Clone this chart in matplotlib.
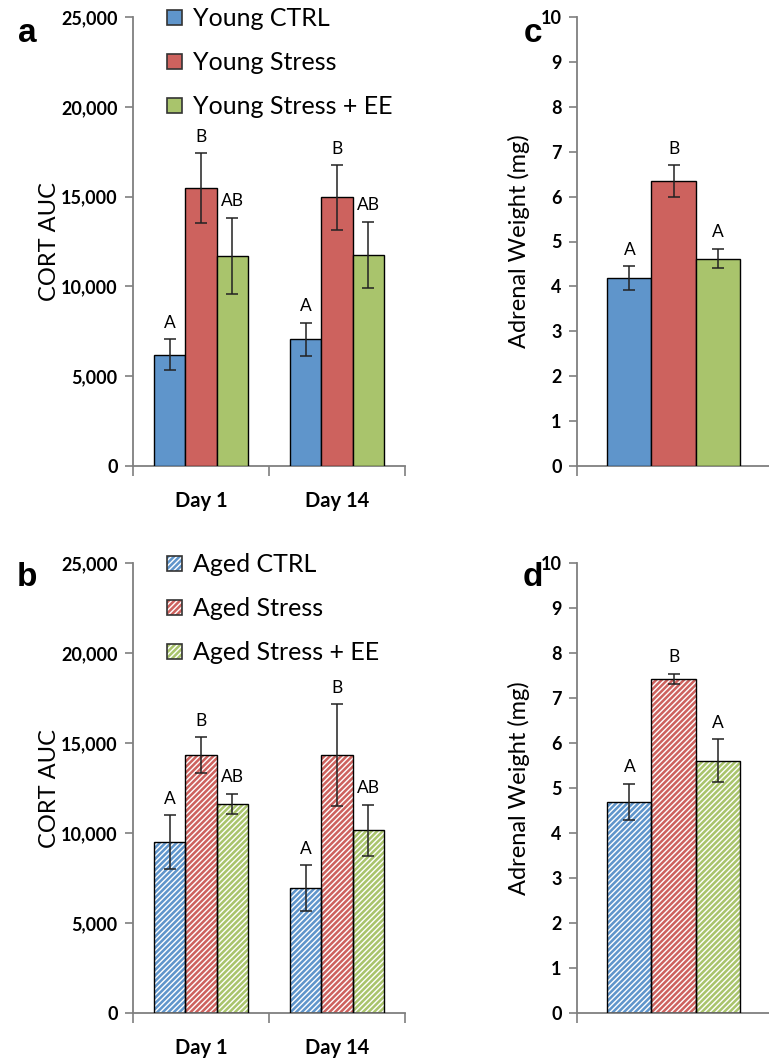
import numpy as np
import matplotlib
matplotlib.use('Agg')
import matplotlib.pyplot as plt
from matplotlib.patches import Patch
from matplotlib.legend_handler import HandlerTuple

plt.rcParams['font.family'] = ['Lato', 'DejaVu Sans']
plt.rcParams['hatch.linewidth'] = 1.0

days = ['Day 1', 'Day 14']
groups_young = ['Young CTRL', 'Young Stress', 'Young Stress + EE']
groups_aged = ['Aged CTRL', 'Aged Stress', 'Aged Stress + EE']
colors = ['#5F95CB', '#CD625E', '#A9C46C']

# CORT AUC, young (panel a)
young_cort = [[6200, 7050], [15480, 14960], [11690, 11750]]
young_cort_err = [[850, 930], [1950, 1800], [2130, 1850]]
young_cort_let = [['A', 'A'], ['B', 'B'], ['AB', 'AB']]

# CORT AUC, aged (panel b)
aged_cort = [[9480, 6930], [14330, 14330], [11630, 10150]]
aged_cort_err = [[1500, 1280], [1000, 2840], [560, 1420]]
aged_cort_let = [['A', 'A'], ['B', 'B'], ['AB', 'AB']]

# adrenal weight (panels c, d)
young_adr = [4.19, 6.35, 4.62]
young_adr_err = [0.26, 0.35, 0.22]
young_adr_let = ['A', 'B', 'A']
aged_adr = [4.70, 7.43, 5.61]
aged_adr_err = [0.40, 0.11, 0.48]
aged_adr_let = ['A', 'B', 'A']

fig = plt.figure(figsize=(7.69, 10.59), dpi=100)

def px_axes(l, t, r, b):
    return fig.add_axes([l / 769, 1 - b / 1059, (r - l) / 769, (b - t) / 1059])

ax_a = px_axes(133, 17, 405, 466)
ax_b = px_axes(133, 563, 405, 1013)
ax_c = px_axes(577, 17, 770, 466)
ax_d = px_axes(577, 563, 770, 1013)

bw = 0.228
spine_col = '#7f7f7f'
HATCH = '//////'


def bars(ax, x, vals, errs, lets, hatched):
    for i in range(3):
        xi = np.asarray(x) + (i - 1) * bw
        if hatched:
            ax.bar(xi, vals[i], bw, color=colors[i], hatch=HATCH,
                   edgecolor='white', linewidth=0, zorder=2)
            ax.bar(xi, vals[i], bw, fill=False, edgecolor='black',
                   linewidth=1.0, zorder=3)
        else:
            ax.bar(xi, vals[i], bw, color=colors[i], edgecolor='black',
                   linewidth=1.0, zorder=3)
        ax.errorbar(xi, vals[i], yerr=errs[i], fmt='none', ecolor='#222222',
                    elinewidth=1.1, capsize=4.5, capthick=1.1, zorder=4)
        tops = np.atleast_1d(vals[i]) + np.atleast_1d(errs[i])
        for xx, tt, lab in zip(np.atleast_1d(xi), tops, np.atleast_1d(lets[i])):
            ax.annotate(lab, (xx, tt), xytext=(0, 6), textcoords='offset points',
                        ha='center', va='bottom', fontsize=12.5)


def style(ax, ymax, step, ncat, fmt):
    for s in ['top', 'right']:
        ax.spines[s].set_visible(False)
    for s in ['left', 'bottom']:
        ax.spines[s].set_color(spine_col)
        ax.spines[s].set_linewidth(1.3)
    ax.set_ylim(0, ymax)
    ax.set_xlim(-0.5, ncat - 0.5)
    yt = np.arange(0, ymax + step / 2, step)
    ax.set_yticks(yt)
    ax.set_yticklabels([fmt(v) for v in yt], fontweight='bold', fontsize=13)
    ax.tick_params(axis='y', direction='out', length=6, width=1.2,
                   color=spine_col, pad=5)
    ax.set_xticks(np.arange(-0.5, ncat, 1.0), minor=True)
    ax.tick_params(axis='x', which='minor', direction='out', length=7,
                   width=1.2, color=spine_col)


def legend(ax, labels, hatched, anchor):
    handles = []
    for i in range(3):
        if hatched:
            h = (Patch(facecolor=colors[i], hatch=HATCH, edgecolor='white', linewidth=0),
                 Patch(fill=False, edgecolor='#333333', linewidth=1.2))
        else:
            h = (Patch(facecolor=colors[i], edgecolor='#333333', linewidth=1.2),)
        handles.append(h)
    ax.legend(handles, labels, handler_map={tuple: HandlerTuple(ndivide=1)},
              loc='upper left', bbox_to_anchor=anchor, frameon=False,
              fontsize=18, handlelength=0.58, handleheight=0.58,
              handletextpad=0.45, labelspacing=0.84, borderpad=0,
              borderaxespad=0)


x = np.arange(len(days))
cort_fmt = lambda v: '{:,}'.format(int(v))
adr_fmt = lambda v: '{:d}'.format(int(v))

for ax, vals, errs, lets, hatched, labels in [
        (ax_a, young_cort, young_cort_err, young_cort_let, False, groups_young),
        (ax_b, aged_cort, aged_cort_err, aged_cort_let, True, groups_aged)]:
    bars(ax, x, vals, errs, lets, hatched)
    style(ax, 25000, 5000, 2, cort_fmt)
    ax.set_xticks(x)
    ax.set_xticklabels(days, fontweight='bold', fontsize=14.5)
    ax.tick_params(axis='x', which='major', length=0, pad=18)
    ax.set_ylabel('CORT AUC', fontsize=17, labelpad=1)
    legend(ax, labels, hatched, (0.125, 1.022))

for ax, vals, errs, lets, hatched in [
        (ax_c, young_adr, young_adr_err, young_adr_let, False),
        (ax_d, aged_adr, aged_adr_err, aged_adr_let, True)]:
    bars(ax, [0], [[v] for v in vals], [[e] for e in errs],
         [[l] for l in lets], hatched)
    style(ax, 10, 1, 1, adr_fmt)
    ax.set_xticks([])
    ax.set_ylabel('Adrenal Weight (mg)', fontsize=17, labelpad=8)

for lab, xp, yp in [('a', 27, 34), ('b', 27, 578), ('c', 533, 34), ('d', 533, 578)]:
    fig.text(xp / 769, 1 - yp / 1059, lab, fontsize=24, fontweight='bold',
             family=['Liberation Sans', 'DejaVu Sans'], ha='center', va='center')

fig.savefig('out.png', dpi=100)
